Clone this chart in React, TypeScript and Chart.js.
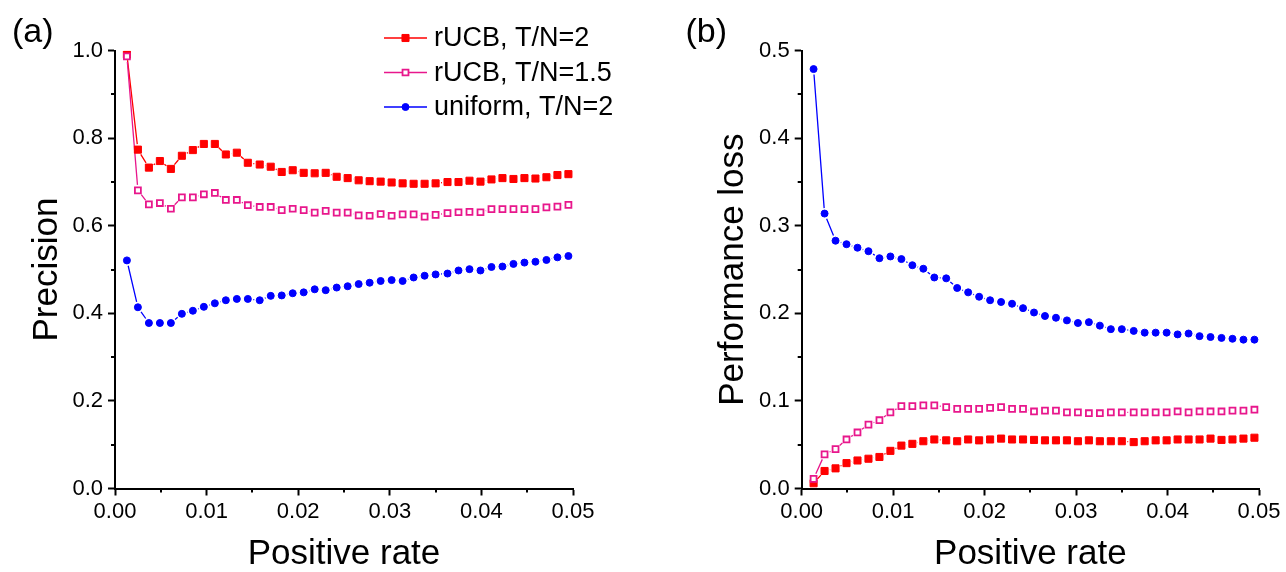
import React, { useEffect, useRef } from 'react';
import { Chart, registerables } from 'chart.js';

Chart.register(...registerables);

const FONT = "'Liberation Sans', Arial, Helvetica, sans-serif";

// x values (positive rate)
const positiveRate = [
  0.0013, 0.0025, 0.0037, 0.0049, 0.0061, 0.0073, 0.0085, 0.0097, 0.0109, 0.0121,
  0.0133, 0.0145, 0.0158, 0.0170, 0.0182, 0.0194, 0.0206, 0.0218, 0.0230, 0.0242,
  0.0254, 0.0266, 0.0278, 0.0290, 0.0302, 0.0314, 0.0326, 0.0338, 0.0350, 0.0363,
  0.0375, 0.0387, 0.0399, 0.0411, 0.0423, 0.0435, 0.0447, 0.0459, 0.0471, 0.0483,
  0.0495,
];

// (a) Precision
const precisionRucb2 = [
  0.991, 0.774, 0.733, 0.748, 0.730, 0.760, 0.773, 0.787, 0.787, 0.763,
  0.767, 0.744, 0.740, 0.735, 0.723, 0.727, 0.721, 0.720, 0.721, 0.712,
  0.709, 0.704, 0.702, 0.701, 0.699, 0.697, 0.696, 0.696, 0.697, 0.700,
  0.700, 0.703, 0.701, 0.706, 0.709, 0.707, 0.709, 0.708, 0.711, 0.716,
  0.718,
];
const precisionRucb15 = [
  0.987, 0.681, 0.649, 0.652, 0.639, 0.665, 0.665, 0.672, 0.675, 0.659,
  0.659, 0.647, 0.643, 0.643, 0.636, 0.639, 0.636, 0.630, 0.634, 0.630,
  0.630, 0.624, 0.623, 0.627, 0.623, 0.626, 0.626, 0.621, 0.625, 0.629,
  0.631, 0.632, 0.631, 0.638, 0.638, 0.638, 0.638, 0.638, 0.642, 0.644,
  0.648,
];
const precisionUniform = [
  0.521, 0.414, 0.378, 0.378, 0.378, 0.399, 0.406, 0.415, 0.423, 0.430,
  0.433, 0.433, 0.430, 0.440, 0.441, 0.446, 0.448, 0.455, 0.453, 0.459,
  0.462, 0.467, 0.470, 0.474, 0.476, 0.474, 0.482, 0.486, 0.489, 0.491,
  0.498, 0.501, 0.498, 0.506, 0.507, 0.513, 0.516, 0.518, 0.522, 0.528,
  0.531,
];

// (b) Performance loss
const lossRucb2 = [
  0.006, 0.020, 0.023, 0.029, 0.032, 0.034, 0.036, 0.043, 0.049, 0.051,
  0.054, 0.056, 0.055, 0.054, 0.056, 0.055, 0.056, 0.057, 0.056, 0.056,
  0.0555, 0.055, 0.055, 0.055, 0.054, 0.055, 0.054, 0.054, 0.054, 0.053,
  0.054, 0.055, 0.055, 0.056, 0.056, 0.056, 0.057, 0.0555, 0.056, 0.057,
  0.058,
];
const lossRucb15 = [
  0.011, 0.039, 0.045, 0.056, 0.064, 0.073, 0.078, 0.087, 0.094, 0.094,
  0.095, 0.095, 0.093, 0.091, 0.091, 0.091, 0.092, 0.093, 0.091, 0.091,
  0.088, 0.089, 0.089, 0.087, 0.087, 0.086, 0.086, 0.087, 0.087, 0.087,
  0.087, 0.087, 0.087, 0.088, 0.087, 0.088, 0.088, 0.088, 0.089, 0.089,
  0.090,
];
const lossUniform = [
  0.479, 0.314, 0.283, 0.279, 0.275, 0.271, 0.263, 0.265, 0.262, 0.255,
  0.251, 0.241, 0.240, 0.229, 0.224, 0.219, 0.215, 0.213, 0.211, 0.206,
  0.201, 0.197, 0.195, 0.192, 0.189, 0.190, 0.186, 0.182, 0.182, 0.180,
  0.178, 0.178, 0.178, 0.176, 0.177, 0.174, 0.173, 0.172, 0.171, 0.170,
  0.170,
];

const seriesLabels = ['rUCB, T/N=2', 'rUCB, T/N=1.5', 'uniform, T/N=2'];

const xMinorTicks = [0.005, 0.015, 0.025, 0.035, 0.045];
const precisionMinorTicks = [0.1, 0.3, 0.5, 0.7, 0.9];
const lossMinorTicks = [0.05, 0.15, 0.25, 0.35, 0.45];

const RED = '#FF0000';
const PINK = '#E8178C';
const BLUE = '#0000FF';

const seriesStyles = [
  { color: RED, pointStyle: 'rect', radius: 5, fill: RED, borderWidth: 1, order: 3 },
  { color: PINK, pointStyle: 'rect', radius: 4.2, fill: '#FFFFFF', borderWidth: 1.8, order: 2 },
  { color: BLUE, pointStyle: 'circle', radius: 3.5, fill: BLUE, borderWidth: 1, order: 1 },
];

const LINE_GAP = 5.5;

function makeDatasets(series: number[][]) {
  return series.map((vals, k) => {
    const s = seriesStyles[k];
    return {
      label: seriesLabels[k],
      data: positiveRate.map((x, i) => ({ x, y: vals[i] })),
      borderColor: s.color,
      backgroundColor: s.fill,
      borderWidth: 1.3,
      showLine: false,
      pointStyle: s.pointStyle,
      pointRadius: s.radius,
      pointBackgroundColor: s.fill,
      pointBorderColor: s.color,
      pointBorderWidth: s.borderWidth,
      order: s.order,
    };
  });
}

// connecting lines with small gaps around the symbols (Origin style)
const gapLinePlugin = {
  id: 'gapLines',
  beforeDatasetsDraw(chart: any) {
    const ctx = chart.ctx as CanvasRenderingContext2D;
    ctx.save();
    chart.data.datasets.forEach((ds: any, di: number) => {
      const meta = chart.getDatasetMeta(di);
      const pts = meta.data;
      ctx.strokeStyle = ds.borderColor;
      ctx.lineWidth = ds.borderWidth;
      ctx.beginPath();
      for (let i = 0; i < pts.length - 1; i++) {
        const a = pts[i];
        const b = pts[i + 1];
        const dx = b.x - a.x;
        const dy = b.y - a.y;
        const d = Math.hypot(dx, dy);
        if (d <= 2 * LINE_GAP) continue;
        const ux = dx / d;
        const uy = dy / d;
        ctx.moveTo(a.x + ux * LINE_GAP, a.y + uy * LINE_GAP);
        ctx.lineTo(b.x - ux * LINE_GAP, b.y - uy * LINE_GAP);
      }
      ctx.stroke();
    });
    ctx.restore();
  },
};

function decorPlugin(opts: {
  panel: string;
  panelX: number;
  yMinor: number[];
  legend: boolean;
}) {
  return {
    id: 'decor',
    afterDraw(chart: any) {
      const ctx = chart.ctx as CanvasRenderingContext2D;
      const xs = chart.scales.x;
      const ys = chart.scales.y;
      const area = chart.chartArea;
      ctx.save();
      // minor ticks
      ctx.strokeStyle = '#000';
      ctx.lineWidth = 2;
      ctx.beginPath();
      xMinorTicks.forEach((v) => {
        const px = Math.round(xs.getPixelForValue(v));
        ctx.moveTo(px, area.bottom);
        ctx.lineTo(px, area.bottom + 4);
      });
      opts.yMinor.forEach((v) => {
        const py = Math.round(ys.getPixelForValue(v));
        ctx.moveTo(area.left - 4, py);
        ctx.lineTo(area.left, py);
      });
      ctx.stroke();

      // panel label
      ctx.fillStyle = '#000';
      ctx.font = `34px ${FONT}`;
      ctx.textBaseline = 'alphabetic';
      ctx.textAlign = 'left';
      ctx.fillText(opts.panel, opts.panelX, 41.5);

      // legend
      if (opts.legend) {
        const rows = [38, 72.5, 107];
        const x0 = 384;
        const x1 = 427;
        const mx = (x0 + x1) / 2;
        seriesStyles.forEach((s, k) => {
          const y = rows[k];
          ctx.strokeStyle = s.color;
          ctx.lineWidth = 1.5;
          ctx.beginPath();
          ctx.moveTo(x0, y);
          ctx.lineTo(x1, y);
          ctx.stroke();
          ctx.beginPath();
          if (s.pointStyle === 'rect') {
            const half = s.radius * Math.SQRT1_2;
            ctx.rect(mx - half, y - half, half * 2, half * 2);
          } else {
            ctx.arc(mx, y, s.radius, 0, Math.PI * 2);
          }
          ctx.fillStyle = s.fill;
          ctx.fill();
          ctx.lineWidth = s.borderWidth;
          ctx.strokeStyle = s.color;
          ctx.stroke();
          ctx.fillStyle = '#000';
          ctx.font = `27px ${FONT}`;
          ctx.textBaseline = 'middle';
          ctx.fillText(seriesLabels[k], 434, y + 1);
        });
      }
      ctx.restore();
    },
  };
}

function makeConfig(p: {
  series: number[][];
  yMax: number;
  yStep: number;
  yTitle: string;
  yAxisWidth: number;
  yTitlePad: number;
  padRight: number;
  panel: string;
  panelX: number;
  yMinor: number[];
  legend: boolean;
}): any {
  const axisCommon = {
    grid: {
      display: true,
      drawOnChartArea: false,
      drawTicks: true,
      tickLength: 7,
      tickWidth: 2,
      tickColor: '#000',
    },
    border: { display: true, color: '#000', width: 2 },
  };
  return {
    type: 'line',
    data: { datasets: makeDatasets(p.series) },
    options: {
      responsive: false,
      animation: false,
      events: [],
      layout: { padding: { left: 0, right: p.padRight, top: 50.7, bottom: 0 } },
      plugins: { legend: { display: false }, tooltip: { enabled: false } },
      scales: {
        x: {
          type: 'linear',
          min: 0,
          max: 0.05,
          ...axisCommon,
          ticks: {
            stepSize: 0.01,
            autoSkip: false,
            maxRotation: 0,
            padding: 3,
            color: '#000',
            font: { family: FONT, size: 22 },
            callback: (v: number) => Number(v).toFixed(2),
          },
          title: {
            display: true,
            text: 'Positive rate',
            color: '#000',
            font: { family: FONT, size: 35, lineHeight: 1 },
            padding: { top: 0, bottom: 0 },
          },
          afterFit: (scale: any) => {
            scale.height = 83.5;
          },
        },
        y: {
          type: 'linear',
          min: 0,
          max: p.yMax,
          ...axisCommon,
          ticks: {
            stepSize: p.yStep,
            autoSkip: false,
            padding: 5,
            color: '#000',
            font: { family: FONT, size: 22 },
            callback: (v: number) => Number(v).toFixed(1),
          },
          title: {
            display: true,
            text: p.yTitle,
            color: '#000',
            font: { family: FONT, size: 35, lineHeight: 1 },
            padding: { top: p.yTitlePad, bottom: 0 },
          },
          afterFit: (scale: any) => {
            scale.width = p.yAxisWidth;
          },
        },
      },
    },
    plugins: [
      gapLinePlugin,
      decorPlugin({ panel: p.panel, panelX: p.panelX, yMinor: p.yMinor, legend: p.legend }),
    ],
  };
}

function ChartCanvas({ config, left }: { config: any; left: number }) {
  const ref = useRef<HTMLCanvasElement | null>(null);
  useEffect(() => {
    if (!ref.current) return;
    const chart = new Chart(ref.current, config);
    return () => chart.destroy();
  }, [config]);
  return (
    <canvas
      ref={ref}
      width={643}
      height={572}
      style={{ position: 'absolute', left, top: 0, width: 643, height: 572, display: 'block' }}
    />
  );
}

const precisionConfig = makeConfig({
  series: [precisionRucb2, precisionRucb15, precisionUniform],
  yMax: 1,
  yStep: 0.2,
  yTitle: 'Precision',
  yAxisWidth: 115,
  yTitlePad: 30,
  padRight: 70,
  panel: '(a)',
  panelX: 12,
  yMinor: precisionMinorTicks,
  legend: true,
});

const lossConfig = makeConfig({
  series: [lossRucb2, lossRucb15, lossUniform],
  yMax: 0.5,
  yStep: 0.1,
  yTitle: 'Performance loss',
  yAxisWidth: 158.7,
  yTitlePad: 72.5,
  padRight: 27,
  panel: '(b)',
  panelX: 42.4,
  yMinor: lossMinorTicks,
  legend: false,
});

export default function App() {
  return (
    <div
      style={{
        position: 'fixed',
        left: 0,
        top: 0,
        width: 1286,
        height: 572,
        background: '#FFFFFF',
        overflow: 'hidden',
      }}
    >
      <ChartCanvas config={precisionConfig} left={0} />
      <ChartCanvas config={lossConfig} left={643} />
    </div>
  );
}
